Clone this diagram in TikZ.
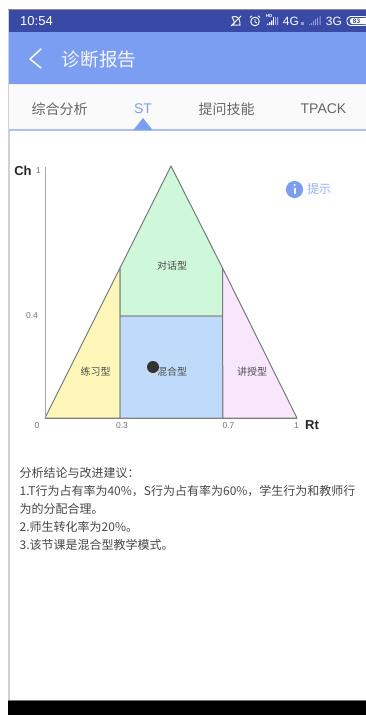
\documentclass[tikz,border=0pt]{standalone}
\usepackage{fontspec}
\setmainfont{Noto Sans CJK SC}
\newfontfamily\latinf{Liberation Sans}
\definecolor{statusblue}{HTML}{3949A6}
\definecolor{barblue}{HTML}{7B9EF2}
\definecolor{tabline}{HTML}{A9C1F6}
\definecolor{tabbg}{HTML}{FAFAFA}
\definecolor{graytext}{HTML}{666666}
\definecolor{zoneyellow}{HTML}{FFF6BA}
\definecolor{zonegreen}{HTML}{CFF7D9}
\definecolor{zoneblue}{HTML}{BEDBFB}
\definecolor{zonepink}{HTML}{F9E8FD}
\definecolor{edgegray}{HTML}{7A7A7A}
\tikzset{
 zone/.style={draw=edgegray,line width=1pt,line join=round},
 tabtext/.style={anchor=center,text=graytext,font=\fontsize{14}{14}\selectfont,inner sep=0pt},
 zonetext/.style={anchor=center,text=black!70,font=\fontsize{10}{10}\selectfont,inner sep=0pt},
 ticktext/.style={anchor=center,text=black!55,font=\latinf\fontsize{8.5}{8.5}\selectfont,inner sep=0pt},
 axistext/.style={anchor=center,text=black!85,font=\latinf\bfseries\fontsize{13}{13}\selectfont,inner sep=0pt},
 bodytext/.style={anchor=north west,text=black!72,inner sep=0pt,align=left,font=\fontsize{12}{17.8}\selectfont},
 statustext/.style={anchor=center,text=white,inner sep=0pt,font=\latinf\fontsize{13}{13}\selectfont},
}
\begin{document}
\begin{tikzpicture}[x=1pt,y=-1pt]
\useasboundingbox (0,0) rectangle (366,715);
\fill[white] (0,0) rectangle (366,715);
% page frame
\fill[black!18] (8,9) rectangle (10,700);
\fill[black!45] (8,9) rectangle (366,10);
% status bar
\fill[statusblue] (9,10) rectangle (366,32);
\node[statustext] (clock) at (36.5,21) {10:54};
% muted bell
\draw[white!90!statusblue,line width=1pt] (232,17) .. controls (239,15) and (240,20) .. (240,25) -- (233,25) .. controls (236,22) and (233,20) .. (232,17);
\draw[white,line width=.9pt] (231,26) -- (241,16);
% alarm clock
\draw[white,line width=.9pt] (255,21.5) circle (4.3);
\draw[white,line width=.8pt] (255,19) -- (255,22) -- (257,23);
\draw[white,line width=.9pt] (250,17.5) -- (252,15.8) (258,15.8) -- (260,17.5);
% signal 1
\node[statustext,font=\latinf\bfseries\fontsize{4.5}{4.5}\selectfont] (hd) at (269,16) {HD};
\fill[white] (267,23.5) rectangle (268.3,25) (269,22) rectangle (270.3,25) (271,20.5) rectangle (272.3,25);
\fill[white] (273,17) rectangle (274.3,25);
\fill[white!55!statusblue] (275,17) rectangle (276,25) (277,17) rectangle (278,25);
\node[statustext,font=\latinf\fontsize{12}{12}\selectfont] (fourg) at (291,21) {4G};
\fill[white!45!statusblue] (301,22) rectangle (304,25);
% signal 2
\fill[white!45!statusblue] (309,24) rectangle (310,25) (311,23) rectangle (312,25) (313,21) rectangle (314,25) (315,19) rectangle (316,25) (317,17.5) rectangle (318,25) (319.5,16) rectangle (320.5,25);
\node[statustext,font=\latinf\fontsize{12}{12}\selectfont] (threeg) at (334,21) {3G};
% battery
\draw[white,line width=.9pt,rounded corners=3.5pt] (347,16.5) rectangle (368,25.5);
\fill[white,rounded corners=2.5pt] (350,18) rectangle (368,24);
\node[anchor=center,text=statusblue,inner sep=0pt,font=\latinf\bfseries\fontsize{6.5}{6.5}\selectfont] (batt) at (356.5,21) {83};
% app bar
\fill[barblue] (9,32) rectangle (366,84);
\draw[white,line width=1.4pt,line cap=round,line join=round] (41,49) -- (30,59) -- (41,68);
\node[anchor=center,text=white!92!barblue,inner sep=0pt,font=\fontsize{18.6}{18.6}\selectfont] (title) at (99,59.5) {诊断报告};
% tabs
\fill[tabbg] (9,85) rectangle (366,130);
\fill[black!6] (9,84) rectangle (366,85);
\node[tabtext] (t1) at (59.5,109.2) {综合分析};
\node[tabtext,text=barblue,font=\latinf\fontsize{14}{14}\selectfont] (t2) at (143,109) {ST};
\node[tabtext] (t3) at (226.5,109.2) {提问技能};
\node[tabtext,font=\latinf\fontsize{14}{14}\selectfont] (t4) at (323.5,109) {TPACK};
\fill[tabline] (9,129.3) rectangle (366,130.6);
\fill[barblue] (133.5,130) -- (143,118) -- (152.5,130) -- cycle;
% zones
\coordinate (O) at (45,418);
\coordinate (A) at (120,418);
\coordinate (B) at (223,418);
\coordinate (C) at (297,418);
\coordinate (D) at (120,316);
\coordinate (E) at (222.5,316);
\coordinate (F) at (120,268);
\coordinate (G) at (222.5,268);
\coordinate (H) at (171,166);
\draw[zone,fill=zoneyellow] (O) -- (A) -- (F) -- cycle;
\draw[zone,fill=zonegreen] (F) -- (H) -- (G) -- (E) -- (D) -- cycle;
\draw[zone,fill=zoneblue,draw=edgegray!90] (D) -- (E) -- (B) -- (A) -- cycle;
\draw[zone,fill=zonepink] (G) -- (C) -- (B) -- (E) -- cycle;
\draw[black!35,line width=1pt] (45,167) -- (O);
\draw[black!50,line width=1pt] (O) -- (C);
% zone labels
\node[zonetext] (dh) at (172,265.8) {对话型};
\node[zonetext] (lx) at (95.5,371.3) {练习型};
\node[zonetext] (hh) at (172,371.3) {混合型};
\node[zonetext] (js) at (252,371.3) {讲授型};
% data point
\fill[black!15,opacity=.5] (153,368.5) circle (7);
\fill[black!80] (153,367) circle (6);
% axes labels
\node[axistext] (ch) at (23,171) {Ch};
\node[ticktext] (y1) at (38.5,171) {1};
\node[ticktext] (y4) at (32,316) {0.4};
\node[ticktext] (x0) at (37,426) {0};
\node[ticktext] (x3) at (122,426) {0.3};
\node[ticktext] (x7) at (228.5,426) {0.7};
\node[ticktext] (x1) at (296.5,426) {1};
\node[axistext] (rt) at (312,425) {Rt};
% hint
\fill[barblue] (294.5,189.5) circle (8.6);
\fill[white] (294.5,185) circle (1.1);
\fill[white] (293.5,187.5) rectangle (295.5,194);
\node[anchor=center,text=barblue!80,inner sep=0pt,font=\fontsize{12}{12}\selectfont] (hint) at (319,188.8) {提示};
% conclusions
\node[bodytext] (body) at (19.5,467.5) {分析结论与改进建议：\\1.T行为占有率为40\%，S行为占有率为60\%，学生行为和教师行\\为的分配合理。\\2.师生转化率为20\%。\\3.该节课是混合型教学模式。};
% bottom bar
\fill[black] (8,700) rectangle (366,715);
\fill[black!55] (8,700) rectangle (366,700.7);
\end{tikzpicture}
\end{document}
